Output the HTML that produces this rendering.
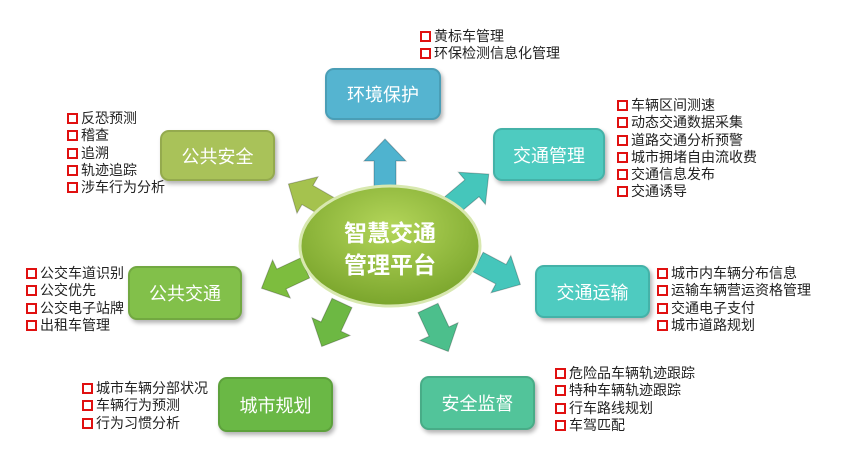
<!DOCTYPE html>
<html><head><meta charset="utf-8"><style>
body{margin:0;width:844px;height:458px;background:#fff;position:relative;overflow:hidden;font-family:"Liberation Sans","Noto Sans CJK SC",sans-serif}
.box{position:absolute;border-radius:9px;color:#fff;font-size:18px;display:flex;align-items:center;justify-content:center;border:2px solid rgba(0,0,0,0.12);box-shadow:2px 3px 4px rgba(0,0,0,0.3);box-sizing:border-box}
.list{position:absolute;font-size:14px;line-height:17.3px;color:#222}
.list div{white-space:nowrap}
.list div:before{content:"";display:inline-block;width:7px;height:7px;border:2px solid #e01010;margin-right:3px;vertical-align:-1px}
</style></head><body>
<svg width="844" height="458" style="position:absolute;left:0;top:0">
<defs>
<radialGradient id="eg" cx="50%" cy="35%" r="65%"><stop offset="0" stop-color="#b4d65a"/><stop offset="1" stop-color="#7aa52c"/></radialGradient>
</defs>
<g stroke="rgba(0,0,0,0.25)" stroke-width="1">
<polygon transform="translate(385,187) rotate(-90)" points="0,-11 26,-11 26,-21 48,0 26,21 26,11 0,11" fill="#4fb3cf"/>
<polygon transform="translate(452,205) rotate(-40)" points="0,-11 26,-11 26,-21 48,0 26,21 26,11 0,11" fill="#45c6bb"/>
<polygon transform="translate(330,208) rotate(-150)" points="0,-11 26,-11 26,-21 48,0 26,21 26,11 0,11" fill="#a5c24e"/>
<polygon transform="translate(478,262) rotate(28)" points="0,-11 26,-11 26,-21 48,0 26,21 26,11 0,11" fill="#45c6bb"/>
<polygon transform="translate(305,268) rotate(155)" points="0,-11 26,-11 26,-21 48,0 26,21 26,11 0,11" fill="#7dbd3e"/>
<polygon transform="translate(342,303) rotate(115)" points="0,-11 26,-11 26,-21 48,0 26,21 26,11 0,11" fill="#6db843"/>
<polygon transform="translate(428,308) rotate(65)" points="0,-11 26,-11 26,-21 48,0 26,21 26,11 0,11" fill="#4cbf8c"/>
</g>
<ellipse cx="390" cy="246" rx="90" ry="60" fill="url(#eg)" stroke="#d8e8b0" stroke-width="3"/>
<text x="390" y="241" text-anchor="middle" font-size="23" font-weight="bold" fill="#fff" font-family="Liberation Sans,Noto Sans CJK SC,sans-serif">智慧交通</text>
<text x="390" y="273" text-anchor="middle" font-size="23" font-weight="bold" fill="#fff" font-family="Liberation Sans,Noto Sans CJK SC,sans-serif">管理平台</text>
</svg>
<div class="box" style="left:325px;top:68px;width:116px;height:52px;background:#55b4d0">环境保护</div>
<div class="box" style="left:493px;top:128px;width:112px;height:53px;background:#4ecbc0">交通管理</div>
<div class="box" style="left:160px;top:130px;width:115px;height:51px;background:#a9c259">公共安全</div>
<div class="box" style="left:535px;top:265px;width:115px;height:53px;background:#4ecbc0">交通运输</div>
<div class="box" style="left:128px;top:266px;width:114px;height:54px;background:#82c04a">公共交通</div>
<div class="box" style="left:218px;top:377px;width:115px;height:55px;background:#6ab845">城市规划</div>
<div class="box" style="left:420px;top:376px;width:115px;height:54px;background:#52c49a">安全监督</div>
<div class="list" style="left:420px;top:28px"><div>黄标车管理</div><div>环保检测信息化管理</div></div>
<div class="list" style="left:617px;top:97px"><div>车辆区间测速</div><div>动态交通数据采集</div><div>道路交通分析预警</div><div>城市拥堵自由流收费</div><div>交通信息发布</div><div>交通诱导</div></div>
<div class="list" style="left:67px;top:110px"><div>反恐预测</div><div>稽查</div><div>追溯</div><div>轨迹追踪</div><div>涉车行为分析</div></div>
<div class="list" style="left:26px;top:265px"><div>公交车道识别</div><div>公交优先</div><div>公交电子站牌</div><div>出租车管理</div></div>
<div class="list" style="left:657px;top:265px"><div>城市内车辆分布信息</div><div>运输车辆营运资格管理</div><div>交通电子支付</div><div>城市道路规划</div></div>
<div class="list" style="left:82px;top:380px"><div>城市车辆分部状况</div><div>车辆行为预测</div><div>行为习惯分析</div></div>
<div class="list" style="left:555px;top:365px"><div>危险品车辆轨迹跟踪</div><div>特种车辆轨迹跟踪</div><div>行车路线规划</div><div>车驾匹配</div></div>
</body></html>
